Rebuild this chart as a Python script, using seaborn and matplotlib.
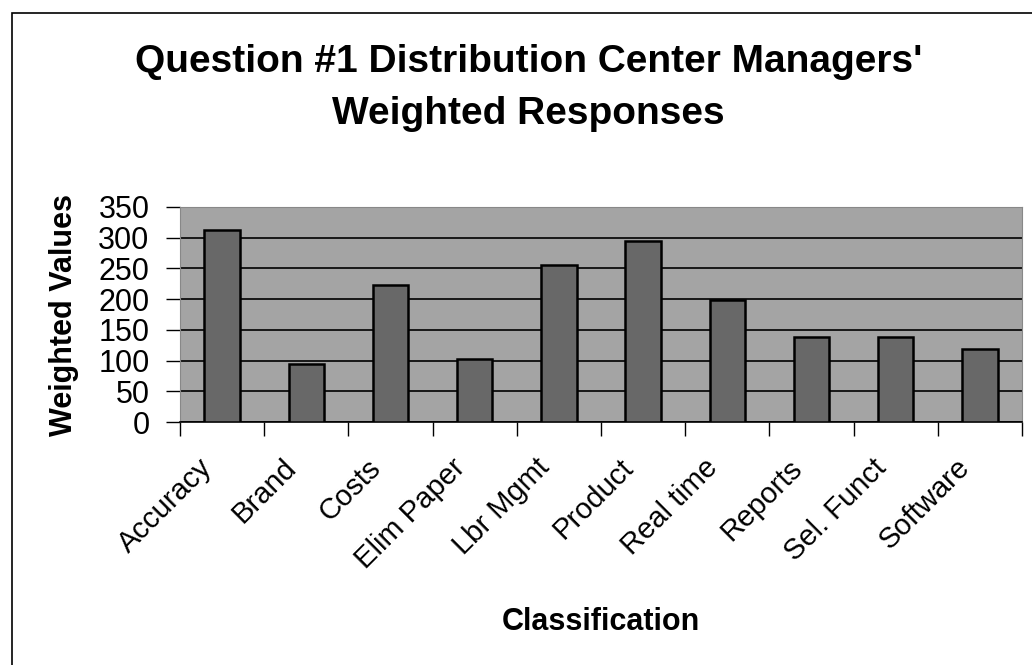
import numpy as np
import pandas as pd
import matplotlib
matplotlib.use("Agg")
import matplotlib.pyplot as plt
from matplotlib.patches import Rectangle
from matplotlib.ticker import FixedLocator
from matplotlib.transforms import ScaledTranslation
import seaborn as sns

# Categories and weighted values
categories = ["Accuracy", "Brand", "Costs", "Elim Paper", "Lbr Mgmt",
              "Product", "Real time", "Reports", "Sel. Funct", "Software"]
weighted_values = [313, 95, 223, 102, 256, 295, 199, 139, 139, 119]
y_ticks = [0, 50, 100, 150, 200, 250, 300, 350]

df = pd.DataFrame({"Classification": categories, "Weighted Values": weighted_values})

sns.set_style("white")
plt.rcParams["font.family"] = ["Liberation Sans", "DejaVu Sans"]
# plain black text, like the original
plt.rcParams["text.color"] = "black"
plt.rcParams["axes.labelcolor"] = "black"
plt.rcParams["xtick.color"] = "black"
plt.rcParams["ytick.color"] = "black"

fig = plt.figure(figsize=(10.32, 6.65), dpi=100)
ax = fig.add_axes([0.1744, 0.365, 0.816, 0.324])

# Grey plot area like the old spreadsheet chart
ax.set_facecolor("#a4a4a4")

sns.barplot(data=df, x="Classification", y="Weighted Values", ax=ax,
            color="#686868", edgecolor="black", linewidth=1.8, width=0.42,
            saturation=1, zorder=3)

ax.set_ylim(0, 350)
ax.set_xlim(-0.5, len(categories) - 0.5)
ax.set_yticks(y_ticks)
ax.yaxis.grid(True, color="black", linewidth=1.2, zorder=1)
ax.set_axisbelow(True)

# Ticks between the categories, as in Excel
ax.xaxis.set_minor_locator(FixedLocator(np.arange(-0.5, len(categories), 1.0)))
ax.tick_params(axis="x", which="major", length=0, labelsize=21, pad=16)
ax.tick_params(axis="x", which="minor", length=10, width=1, color="black", direction="out", bottom=True)
ax.tick_params(axis="y", length=10, width=1, color="black", direction="out", labelsize=22, pad=12, left=True)
plt.setp(ax.get_xticklabels(), rotation=45, ha="right", rotation_mode="anchor")

# nudge the slanted labels a bit left and down
shift = ScaledTranslation(-0.24, -0.09, fig.dpi_scale_trans)
for lab in ax.get_xticklabels():
    lab.set_transform(lab.get_transform() + shift)

for side in ["top", "right", "left"]:
    ax.spines[side].set_color("#888888")
ax.spines["bottom"].set_color("black")
ax.spines["bottom"].set_linewidth(1.2)

ax.set_xlabel("Classification", fontsize=22, fontweight="bold", labelpad=24)
ax.set_ylabel("Weighted Values", fontsize=22, fontweight="bold", labelpad=14)

fig.text(0.512, 0.907, "Question #1 Distribution Center Managers'",
         ha="center", va="center", fontsize=28, fontweight="bold")
fig.text(0.512, 0.829, "Weighted Responses",
         ha="center", va="center", fontsize=28, fontweight="bold")

# Outer chart border
fig.patches.append(Rectangle((0.012, -0.01), 1.0, 0.99, transform=fig.transFigure,
                             fill=False, edgecolor="black", linewidth=1.2))

fig.savefig("out.png", dpi=100)
